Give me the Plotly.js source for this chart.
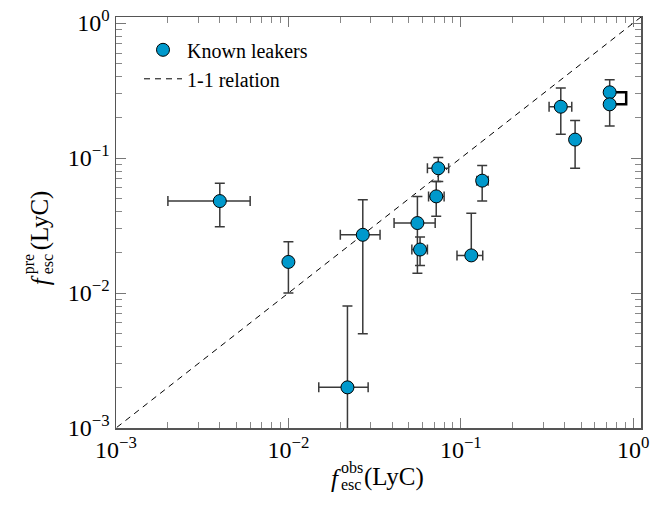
<!DOCTYPE html>
<html>
<head>
<meta charset="utf-8">
<script src="https://cdn.plot.ly/plotly-3.0.1.min.js"></script>
<style>
  html, body { margin: 0; padding: 0; background: #fff; }
  #chart { width: 653px; height: 508px; }
</style>
</head>
<body>
<div id="chart"></div>
<script>
// ---- data ----
const fObs      = [0.004, 0.010, 0.022, 0.027, 0.056, 0.058, 0.072, 0.074, 0.115, 0.133, 0.38, 0.46, 0.73, 0.73];
const fObsErrLo = [0.002, 0.000, 0.007, 0.007, 0.015, 0.006, 0.007, 0.010, 0.020, 0.009, 0.055, 0.000, 0.000, 0.000];
const fObsErrHi = [0.002, 0.000, 0.007, 0.007, 0.015, 0.006, 0.008, 0.011, 0.019, 0.011, 0.060, 0.000, 0.000, 0.000];
const fPre      = [0.048, 0.017, 0.002, 0.027, 0.033, 0.021, 0.052, 0.084, 0.019, 0.068, 0.24, 0.137, 0.307, 0.25];
const fPreErrHi = [0.017, 0.007, 0.006, 0.022, 0.019, 0.005, 0.015, 0.017, 0.020, 0.020, 0.090, 0.053, 0.074, 0.000];
const fPreErrLo = [0.017, 0.007, 0.002, 0.022, 0.019, 0.005, 0.015, 0.017, 0.000, 0.020, 0.090, 0.053, 0.000, 0.077];

// bracket joining the two measurements of the same source
const bracketX = [0.73, 0.91, 0.91, 0.73];
const bracketY = [0.307, 0.307, 0.25, 0.25];

// 1-1 relation
const oneToOne = [0.0001, 10];

const tickVals  = [0.001, 0.01, 0.1, 1];
const tickText  = ["10<sup>\u22123</sup>", "10<sup>\u22122</sup>", "10<sup>\u22121</sup>", "10<sup>0</sup>"];
const minorVals = [];
[0.001, 0.01, 0.1, 1].forEach(d => { for (let k = 2; k <= 9; k++) minorVals.push(d * k); });

const SERIF = "Liberation Serif";

const traces = [
  {
    x: oneToOne, y: oneToOne, mode: "lines", type: "scatter",
    name: "1-1 relation", legendrank: 2,
    line: { color: "#000", width: 1, dash: "6px,5px" },
    hoverinfo: "skip"
  },
  {
    x: bracketX, y: bracketY, mode: "lines", type: "scatter",
    showlegend: false, line: { color: "#000", width: 2.5 }, hoverinfo: "skip"
  },
  {
    x: fObs, y: fPre, mode: "markers", type: "scatter",
    name: "Known leakers", legendrank: 1,
    marker: { color: "#0099cc", size: 13, line: { color: "#000", width: 1 } },
    error_x: { type: "data", symmetric: false, array: fObsErrHi, arrayminus: fObsErrLo,
               color: "#3a3a3a", thickness: 1.5, width: 5 },
    error_y: { type: "data", symmetric: false, array: fPreErrHi, arrayminus: fPreErrLo,
               color: "#3a3a3a", thickness: 1.5, width: 5 }
  }
];

const axisCommon = {
  type: "log",
  range: [-3, 0.045],
  tickmode: "array",
  tickvals: tickVals,
  ticktext: tickText,
  ticks: "inside",
  ticklen: 10,
  tickwidth: 1,
  tickcolor: "#777",
  showline: true,
  linecolor: "#555",
  linewidth: 1.5,
  mirror: "ticks",
  showgrid: false,
  zeroline: false,
  tickfont: { family: SERIF, size: 24, color: "#000" },
  minor: { tickmode: "array", tickvals: minorVals, ticks: "inside", ticklen: 6,
           tickwidth: 1, tickcolor: "#888", showgrid: false }
};

function px2x(px) { return (px - 116) / 525; }
function py2y(py) { return (427.7 - py) / 411; }

const annFont = (s) => ({ family: SERIF, size: s, color: "#000" });
const annotations = [
  // x title: f_esc^obs (LyC)
  { text: "<i>f</i>", x: px2x(336), y: py2y(478), xanchor: "center", yanchor: "middle", font: annFont(25) },
  { text: "obs", x: px2x(339), y: py2y(467), xanchor: "left", yanchor: "middle", font: annFont(16) },
  { text: "esc", x: px2x(339), y: py2y(484), xanchor: "left", yanchor: "middle", font: annFont(16) },
  { text: "(LyC)", x: px2x(362), y: py2y(477), xanchor: "left", yanchor: "middle", font: annFont(25) },
  // y title: f_esc^pre (LyC)
  { text: "<i>f</i>", x: px2x(40), y: py2y(280), xanchor: "center", yanchor: "middle", textangle: -90, font: annFont(25) },
  { text: "pre", x: px2x(29), y: py2y(276), xanchor: "center", yanchor: "bottom", textangle: -90, font: annFont(16) },
  { text: "esc", x: px2x(47), y: py2y(276), xanchor: "center", yanchor: "bottom", textangle: -90, font: annFont(16) },
  { text: "(LyC)", x: px2x(40), y: py2y(252), xanchor: "center", yanchor: "bottom", textangle: -90, font: annFont(25) }
].map(a => Object.assign({ xref: "paper", yref: "paper", showarrow: false }, a));

const layout = {
  width: 653, height: 508,
  margin: { l: 116, r: 12, t: 17, b: 80 },
  paper_bgcolor: "#fff", plot_bgcolor: "#fff",
  font: { family: SERIF, size: 20, color: "#000" },
  xaxis: Object.assign({}, axisCommon),
  yaxis: Object.assign({}, axisCommon),
  showlegend: true,
  legend: {
    x: px2x(139), y: py2y(30), xanchor: "left", yanchor: "top",
    bgcolor: "rgba(0,0,0,0)", borderwidth: 0,
    font: { family: SERIF, size: 20, color: "#000" },
    itemwidth: 38, tracegroupgap: 0
  },
  annotations: annotations
};

Plotly.newPlot("chart", traces, layout, { displayModeBar: false, staticPlot: true });
</script>
</body>
</html>
